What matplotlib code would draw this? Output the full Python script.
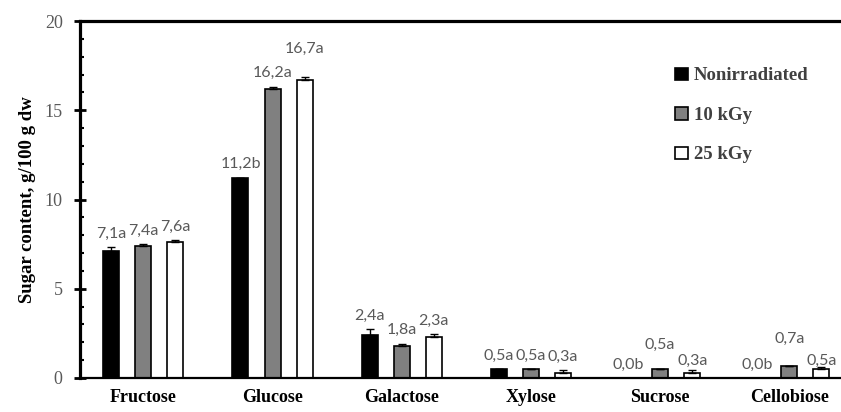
import matplotlib.pyplot as plt
import numpy as np

sugars = ['Fructose', 'Glucose', 'Galactose', 'Xylose', 'Sucrose', 'Cellobiose']
doses = ['Nonirradiated', '10 kGy', '25 kGy']

nonirr = [7.1, 11.2, 2.4, 0.5, 0.0, 0.0]
kgy10 = [7.4, 16.2, 1.8, 0.5, 0.5, 0.7]
kgy25 = [7.6, 16.7, 2.3, 0.3, 0.3, 0.5]

err_nonirr = [0.22, 0.03, 0.32, 0.0, 0.0, 0.0]
err_kgy10 = [0.11, 0.13, 0.13, 0.0, 0.0, 0.0]
err_kgy25 = [0.11, 0.15, 0.17, 0.17, 0.15, 0.13]

letters_nonirr = ['a', 'b', 'a', 'a', 'b', 'b']
letters_kgy10 = ['a', 'a', 'a', 'a', 'a', 'a']
letters_kgy25 = ['a', 'a', 'a', 'a', 'a', 'a']

COLORS = ['#000000', '#808080', '#ffffff']

# extra vertical nudge (points) for labels that would collide
nudge = {(2, 1): 11, (1, 4): 8, (2, 4): -3, (1, 5): 10, (2, 5): -5}

fig = plt.figure(figsize=(8.41, 4.12), dpi=100)
ax = fig.add_axes([80 / 841, 34 / 412, 774 / 841, 357 / 412])

x = np.arange(len(sugars))
width = 0.124
step = 0.248

series = [(nonirr, err_nonirr, letters_nonirr),
          (kgy10, err_kgy10, letters_kgy10),
          (kgy25, err_kgy25, letters_kgy25)]

for i, (vals, errs, letters) in enumerate(series):
    pos = x + (i - 1) * step
    ax.bar(pos, vals, width, color=COLORS[i], edgecolor='black', linewidth=1.2,
           label=doses[i], zorder=2)
    ax.errorbar(pos, vals, yerr=[np.zeros(len(vals)), errs], fmt='none',
                ecolor='black', elinewidth=1, capsize=3, capthick=1, zorder=3)
    for j, (p, v, e, l) in enumerate(zip(pos, vals, errs, letters)):
        txt = '{:.1f}{}'.format(v, l).replace('.', ',')
        ax.annotate(txt, xy=(p, v + e), xytext=(0, 9.5 + nudge.get((i, j), 0)),
                    textcoords='offset points', ha='center', va='center',
                    fontsize=11.5, family='Lato', color='#595959')

ax.set_xlim(-0.49, 5.5)
ax.set_ylim(0, 20)
ax.set_yticks([0, 5, 10, 15, 20])
ax.set_yticks(np.arange(0, 21, 1), minor=True)
ax.set_xticks(x)
ax.set_xticklabels(sugars, family='Liberation Serif', fontweight='bold',
                   fontsize=13, color='black')
ax.tick_params(axis='x', length=0, pad=8)
ax.tick_params(axis='y', which='major', direction='inout', length=9, width=2,
               labelsize=13, labelcolor='#595959', pad=8)
ax.tick_params(axis='y', which='minor', direction='in', length=3, width=1.5)
for lab in ax.get_yticklabels():
    lab.set_family('Liberation Serif')

ax.spines['right'].set_visible(False)
ax.spines['left'].set_linewidth(2.3)
ax.spines['top'].set_linewidth(2.3)
ax.spines['bottom'].set_linewidth(1.6)

ax.set_ylabel('Sugar content, g/100 g dw', family='Liberation Serif',
              fontweight='bold', fontsize=13.5, labelpad=6)

leg = ax.legend(loc='upper left', bbox_to_anchor=(666 / 841, 1 - 58 / 412),
                bbox_transform=fig.transFigure, frameon=False, borderpad=0,
                handlelength=0.65, handleheight=0.65, handletextpad=0.35,
                labelspacing=1.2,
                prop={'family': 'Liberation Serif', 'weight': 'bold', 'size': 13.5})
for t in leg.get_texts():
    t.set_color('#404040')

fig.savefig('out.png', dpi=100)
